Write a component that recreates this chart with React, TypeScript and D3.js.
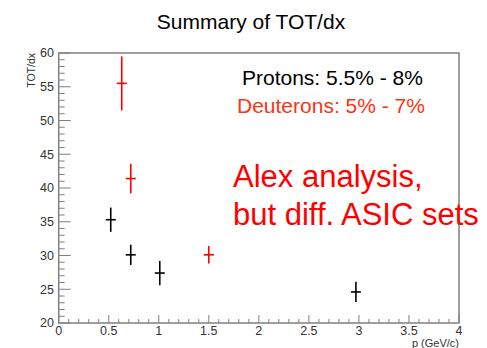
import React, { useEffect, useRef } from 'react';
import * as d3 from 'd3';

// TOT/dx summary values
const protonP = [0.52, 0.72, 1.01, 2.97];
const protonV = [35.3, 30.1, 27.4, 24.6];
const protonErr = [1.8, 1.5, 1.8, 1.5];

const deuteronP = [0.63, 0.72, 1.5];
const deuteronV = [55.5, 41.4, 30.1];
const deuteronErr = [4.0, 2.2, 1.3];

const pErr = 0.05;

const xTicks = [0, 0.5, 1, 1.5, 2, 2.5, 3, 3.5, 4];
const yTicks = [20, 25, 30, 35, 40, 45, 50, 55, 60];

const App: React.FC = () => {
  const svgRef = useRef<SVGSVGElement | null>(null);

  useEffect(() => {
    if (!svgRef.current) return;
    const width = 487, height = 348;
    const left = 58.7, right = 459, top = 53, bottom = 323;
    const font = 'Liberation Sans, Arial, sans-serif';
    const axisColor = '#808080';

    const x = d3.scaleLinear().domain([0, 4]).range([left, right]);
    const y = d3.scaleLinear().domain([20, 60]).range([bottom, top]);

    const svg = d3.select(svgRef.current);
    svg.selectAll('*').remove();
    svg.attr('viewBox', `0 0 ${width} ${height}`);

    svg.append('rect').attr('width', width).attr('height', height).attr('fill', '#fff');

    // frame
    svg.append('rect')
      .attr('x', left).attr('y', top)
      .attr('width', right - left).attr('height', bottom - top)
      .attr('fill', 'none').attr('stroke', axisColor).attr('stroke-width', 1.5);

    const g = svg.append('g').attr('stroke', axisColor).attr('stroke-width', 1);

    // x ticks: major every 0.5, minor every 0.1
    d3.range(0, 40.5, 1).map(i => i / 10).forEach((v, i) => {
      const len = i % 5 === 0 ? 8 : 4;
      g.append('line')
        .attr('x1', x(v)).attr('x2', x(v))
        .attr('y1', bottom).attr('y2', bottom - len);
    });
    // y ticks: major every 5, minor every 1
    d3.range(20, 60.5, 1).forEach((v, i) => {
      const len = i % 5 === 0 ? 12 : 6;
      g.append('line')
        .attr('x1', left).attr('x2', left + len)
        .attr('y1', y(v)).attr('y2', y(v));
    });

    svg.append('g').selectAll('text').data(xTicks).enter().append('text')
      .attr('x', d => x(d)).attr('y', 335)
      .attr('text-anchor', 'middle')
      .attr('font-family', font).attr('font-size', 12.5).attr('fill', '#333')
      .text(d => String(d));

    svg.append('g').selectAll('text').data(yTicks).enter().append('text')
      .attr('x', 54).attr('y', d => y(d)).attr('dy', '0.35em')
      .attr('text-anchor', 'end')
      .attr('font-family', font).attr('font-size', 12.5).attr('fill', '#333')
      .text(d => String(d));

    svg.append('text')
      .attr('x', right).attr('y', 346.5)
      .attr('text-anchor', 'end')
      .attr('font-family', font).attr('font-size', 11).attr('fill', '#333')
      .text('p (GeV/c)');

    svg.append('text')
      .attr('transform', `translate(35,${top}) rotate(-90)`)
      .attr('text-anchor', 'end')
      .attr('font-family', font).attr('font-size', 10.5).attr('fill', '#333')
      .text('TOT/dx');

    // error bars
    const drawSeries = (ps: number[], vs: number[], es: number[], color: string) => {
      const s = svg.append('g').attr('stroke', color).attr('stroke-width', 1.6);
      ps.forEach((p, i) => {
        s.append('line')
          .attr('x1', x(p)).attr('x2', x(p))
          .attr('y1', y(vs[i] - es[i])).attr('y2', y(vs[i] + es[i]));
        s.append('line')
          .attr('x1', x(p - pErr)).attr('x2', x(p + pErr))
          .attr('y1', y(vs[i])).attr('y2', y(vs[i]));
      });
    };
    drawSeries(protonP, protonV, protonErr, '#000');
    drawSeries(deuteronP, deuteronV, deuteronErr, '#ff0000');

    // title and annotations
    svg.append('text')
      .attr('x', 251).attr('y', 29)
      .attr('text-anchor', 'middle')
      .attr('font-family', font).attr('font-size', 21).attr('fill', '#000')
      .text('Summary of TOT/dx');

    svg.append('text')
      .attr('x', 242).attr('y', 85)
      .attr('font-family', font).attr('font-size', 21).attr('fill', '#000')
      .text('Protons: 5.5% - 8%');

    svg.append('text')
      .attr('x', 237).attr('y', 113)
      .attr('font-family', font).attr('font-size', 21).attr('fill', '#ff3311')
      .text('Deuterons: 5% - 7%');

    svg.append('text')
      .attr('x', 233).attr('y', 187)
      .attr('font-family', font).attr('font-size', 31).attr('fill', '#ff0000')
      .text('Alex analysis,');

    svg.append('text')
      .attr('x', 233).attr('y', 225)
      .attr('font-family', font).attr('font-size', 31).attr('fill', '#ff0000')
      .text('but diff. ASIC sets');
  }, []);

  return (
    <svg
      ref={svgRef}
      width={487}
      height={348}
      style={{ position: 'absolute', left: 0, top: 0, display: 'block' }}
    />
  );
};

export default App;
